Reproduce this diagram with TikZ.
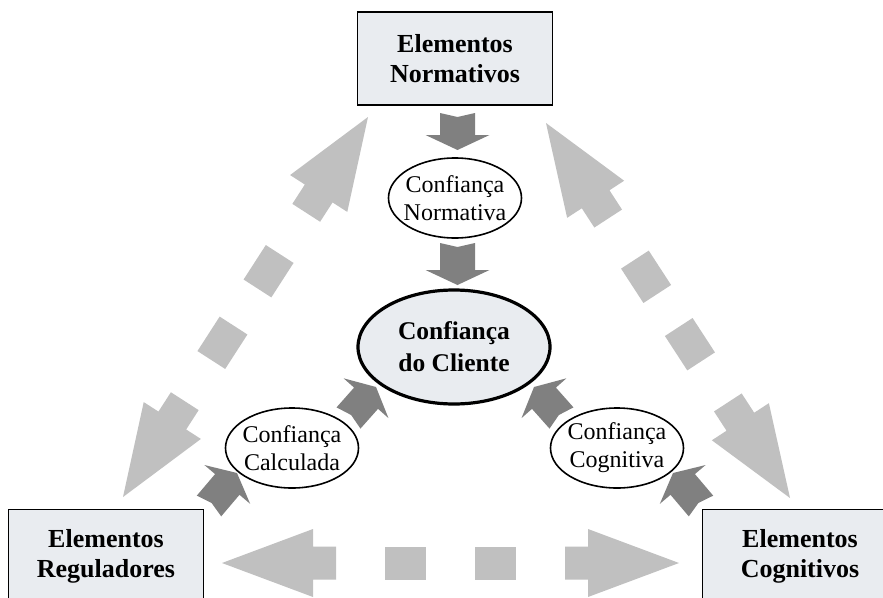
\documentclass[tikz,border=0pt]{standalone}
\usepackage{fontspec}
\setmainfont{Liberation Serif}
\usetikzlibrary{calc,shapes.geometric}

\definecolor{arrowlight}{HTML}{C0C0C0}
\definecolor{arrowdark}{HTML}{808080}
\definecolor{boxfill}{HTML}{E9ECF0}

% Block arrow: #1 colour, #2 tail, #3 tip, #4 shaft half width,
% #5 head half width, #6 head length, #7 depth of the notch at the tail
\newcommand\blockarrow[7]{%
  \coordinate (ba-base) at ($(#3)!#6!(#2)$);
  \fill[#1] ($(#2)!#4!90:(#3)$) -- ($(ba-base)!#4!-90:(#2)$)
    -- ($(ba-base)!#5!-90:(#2)$) -- (#3) -- ($(ba-base)!#5!90:(#2)$)
    -- ($(ba-base)!#4!90:(#2)$) -- ($(#2)!#4!-90:(#3)$)
    -- ($(#2)!#7!(#3)$) -- cycle;
}

% Broken double-headed link between two tips #1 and #2
\newcommand\dashedlink[2]{%
  \coordinate (dl-a) at ($(#1)!114pt!(#2)$);
  \coordinate (dl-b) at ($(#2)!114pt!(#1)$);
  \blockarrow{arrowlight}{dl-a}{#1}{16.5pt}{34pt}{91pt}{0pt}
  \blockarrow{arrowlight}{dl-b}{#2}{16.5pt}{34pt}{91pt}{0pt}
  \coordinate (dl-p) at ($(#1)!163pt!(#2)$);
  \coordinate (dl-q) at ($(#1)!204pt!(#2)$);
  \fill[arrowlight] ($(dl-p)!16.5pt!90:(#2)$) -- ($(dl-q)!16.5pt!-90:(#1)$)
    -- ($(dl-q)!16.5pt!90:(#1)$) -- ($(dl-p)!16.5pt!-90:(#2)$) -- cycle;
  \coordinate (dl-p) at ($(#2)!163pt!(#1)$);
  \coordinate (dl-q) at ($(#2)!204pt!(#1)$);
  \fill[arrowlight] ($(dl-p)!16.5pt!90:(#1)$) -- ($(dl-q)!16.5pt!-90:(#2)$)
    -- ($(dl-q)!16.5pt!90:(#2)$) -- ($(dl-p)!16.5pt!-90:(#1)$) -- cycle;
}

\begin{document}
\begin{tikzpicture}[x=1pt,y=-1pt,
  elembox/.style={rectangle, draw=black, line width=1.8pt, fill=boxfill,
    minimum width=195pt, minimum height=93pt, inner sep=0pt, align=center,
    font=\fontsize{26}{30}\selectfont\bfseries},
  trustoval/.style={ellipse, draw=black, line width=1.6pt, fill=white,
    minimum width=133pt, minimum height=80pt, inner sep=-14pt, align=center,
    font=\fontsize{24}{28}\selectfont},
  centraloval/.style={ellipse, draw=black, line width=3.2pt, fill=boxfill,
    minimum width=192pt, minimum height=114pt, inner sep=-14pt, align=center,
    font=\fontsize{25.5}{32}\selectfont\bfseries}]

\useasboundingbox (0,0) rectangle (883,597);
\clip (0,0) rectangle (883,597);
\fill[white] (0,0) rectangle (883,597);

% light broken links between the three kinds of elements
\coordinate (lt-a) at (368,117); \coordinate (lt-b) at (123,497);
\coordinate (rt-a) at (546,123); \coordinate (rt-b) at (790,498);
\coordinate (bt-a) at (222,563); \coordinate (bt-b) at (679,563);
\dashedlink{lt-a}{lt-b}
\dashedlink{rt-a}{rt-b}
\dashedlink{bt-a}{bt-b}

% dark arrows towards the client's trust
\coordinate (n1-t) at (457.5,113); \coordinate (n1-h) at (457.5,150);
\coordinate (n2-t) at (457.5,243); \coordinate (n2-h) at (457.5,285);
\blockarrow{arrowdark}{n1-t}{n1-h}{17.5pt}{32pt}{15pt}{4pt}
\blockarrow{arrowdark}{n2-t}{n2-h}{17.5pt}{32pt}{15pt}{4pt}

\coordinate (c1-t) at (348.5,418); \coordinate (c1-h) at (376,387);
\coordinate (c2-t) at (561.5,418); \coordinate (c2-h) at (534,387);
\blockarrow{arrowdark}{c1-t}{c1-h}{16pt}{30pt}{15pt}{4pt}
\blockarrow{arrowdark}{c2-t}{c2-h}{16pt}{30pt}{15pt}{4pt}

\coordinate (r1-t) at (209,506); \coordinate (r1-h) at (237,473);
\coordinate (r2-t) at (701,506); \coordinate (r2-h) at (673,473);
\blockarrow{arrowdark}{r1-t}{r1-h}{16pt}{30pt}{15pt}{4pt}
\blockarrow{arrowdark}{r2-t}{r2-h}{16pt}{30pt}{15pt}{4pt}

% element boxes
\node[elembox] (norm) at (455,58.5) {Elementos\\Normativos};
\node[elembox] (reg)  at (106,556) {Elementos\\Reguladores};
\node[elembox] (cogn) at (800,556) {Elementos\\Cognitivos};

% kinds of trust
\node[trustoval] (tnorm) at (455,198) {Confiança\\Normativa};
\node[trustoval] (tcalc) at (292,448) {Confiança\\Calculada};
\node[trustoval] (tcogn) at (617,448) {Confiança\\Cognitiva};
\node[centraloval] (client) at (454,347) {Confiança\\do Cliente};

\end{tikzpicture}
\end{document}
